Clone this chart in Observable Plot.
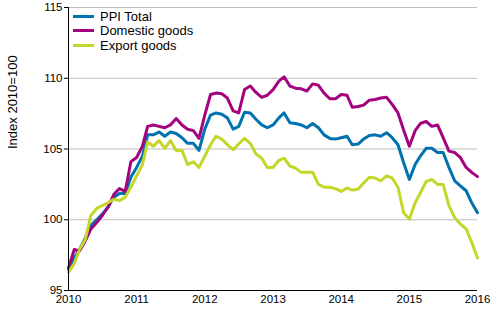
<!DOCTYPE html>
<html><head><meta charset="utf-8">
<script src="https://cdn.jsdelivr.net/npm/d3@7"></script>
<script src="https://cdn.jsdelivr.net/npm/@observablehq/plot@0.6"></script>
<style>
body{margin:0;background:#fff;}
#wrap{position:relative;width:500px;height:330px;font-family:"Liberation Sans",Arial,sans-serif;}
.legend{position:absolute;left:73px;top:9px;font-size:13px;color:#000;}
.legend div{display:flex;align-items:center;height:14.5px;}
.legend span.sw{display:inline-block;width:21px;height:3px;margin-right:6px;}
</style></head><body><div id="wrap"></div><script>
const seriesNames = ["PPI Total", "Domestic goods", "Export goods"];
const seriesColors = ["#0072b0", "#a3037f", "#c4d62a"];
const startYear = 2010;
const yTicks = [95, 100, 105, 110, 115];
const xTickYears = [2010, 2011, 2012, 2013, 2014, 2015, 2016];
const yLabel = "Index 2010=100";

const ppiTotal = [96.5,97.3,97.9,98.7,99.6,100.0,100.4,100.9,101.6,101.85,101.85,103.0,
103.7,104.5,106.0,106.0,106.2,105.9,106.2,106.1,105.8,105.4,105.4,104.9,
106.4,107.4,107.55,107.45,107.2,106.4,106.6,107.6,107.55,107.1,106.7,106.5,
106.7,107.2,107.55,106.85,106.8,106.7,106.5,106.8,106.5,106.0,105.75,105.7,
105.8,105.9,105.3,105.35,105.7,105.95,106.0,105.9,106.15,105.8,105.3,104.05,
102.85,103.9,104.5,105.05,105.05,104.75,104.75,103.7,102.75,102.4,102.05,101.2,
100.5];
const domestic = [96.6,97.9,97.8,98.5,99.35,99.8,100.3,100.9,101.8,102.2,102.0,104.1,
104.4,105.2,106.6,106.7,106.6,106.5,106.7,107.15,106.7,106.4,106.3,105.75,
107.4,108.85,108.95,108.9,108.6,107.7,107.55,109.2,109.45,109.0,108.65,108.8,
109.2,109.8,110.1,109.45,109.3,109.25,109.1,109.6,109.5,108.95,108.55,108.55,
108.85,108.8,107.95,108.0,108.1,108.45,108.5,108.6,108.65,108.15,107.55,106.35,
105.2,106.3,106.8,106.95,106.6,106.7,105.8,104.85,104.75,104.4,103.7,103.35,
103.05];
const exportGoods = [96.3,96.9,97.9,98.6,100.3,100.8,101.0,101.2,101.45,101.35,101.6,102.3,
103.1,103.9,105.5,105.2,105.6,105.05,105.6,104.9,104.9,103.9,104.1,103.7,
104.5,105.3,105.9,105.7,105.3,104.95,105.35,105.75,105.4,104.65,104.35,103.7,
103.7,104.2,104.35,103.8,103.65,103.35,103.35,103.35,102.5,102.3,102.3,102.2,
102.0,102.25,102.1,102.15,102.6,103.0,102.95,102.75,103.1,102.95,102.3,100.5,
100.05,101.2,101.9,102.7,102.85,102.5,102.5,101.0,100.15,99.7,99.35,98.4,
97.3];

const monthDate = i => new Date(Date.UTC(startYear + Math.floor(i / 12), i % 12, 1));
const allSeries = [ppiTotal, domestic, exportGoods];
const data = [];
allSeries.forEach((arr, s) => arr.forEach((v, i) => data.push({series: seriesNames[s], date: monthDate(i), value: v})));
const xTicks = xTickYears.map(y => new Date(Date.UTC(y, 0, 1)));
const xDomain = [xTicks[0], xTicks[xTicks.length - 1]];

const chart = Plot.plot({
  width: 500, height: 330,
  marginLeft: 68, marginRight: 23, marginTop: 7, marginBottom: 40,
  style: {fontFamily: "'Liberation Sans', Arial, sans-serif", fontSize: "11px", color: "#000", background: "#fff"},
  x: {type: "utc", domain: xDomain},
  y: {domain: [yTicks[0], yTicks[yTicks.length - 1]]},
  color: {domain: seriesNames, range: seriesColors},
  marks: [
    Plot.ruleY(yTicks.slice(1), {stroke: "#bdbdbd", strokeWidth: 1}),
    Plot.lineY(data, {x: "date", y: "value", stroke: "series", strokeWidth: 3, strokeLinejoin: "round", curve: "linear"}),
    Plot.ruleX([xDomain[0]], {stroke: "#000", strokeWidth: 1}),
    Plot.ruleY([yTicks[0]], {stroke: "#000", strokeWidth: 1}),
    Plot.axisY({ticks: yTicks, tickSize: 4, tickPadding: 2, tickFormat: d => String(d), fontSize: 11.5, label: null, stroke: "#000"}),
    Plot.axisX({ticks: xTicks, tickSize: 0, tickPadding: 4, tickFormat: d => String(d.getUTCFullYear()), fontSize: 11.5, label: null}),
    Plot.text([yLabel], {frameAnchor: "left", rotate: -90, dx: -56, fontSize: 13, fill: "#000"})
  ]
});
const wrap = document.getElementById("wrap");
wrap.appendChild(chart);
const leg = document.createElement("div");
leg.className = "legend";
seriesNames.forEach((n, i) => {
  const row = document.createElement("div");
  const sw = document.createElement("span");
  sw.className = "sw"; sw.style.background = seriesColors[i];
  row.appendChild(sw);
  row.appendChild(document.createTextNode(n));
  leg.appendChild(row);
});
wrap.appendChild(leg);
</script></body></html>
